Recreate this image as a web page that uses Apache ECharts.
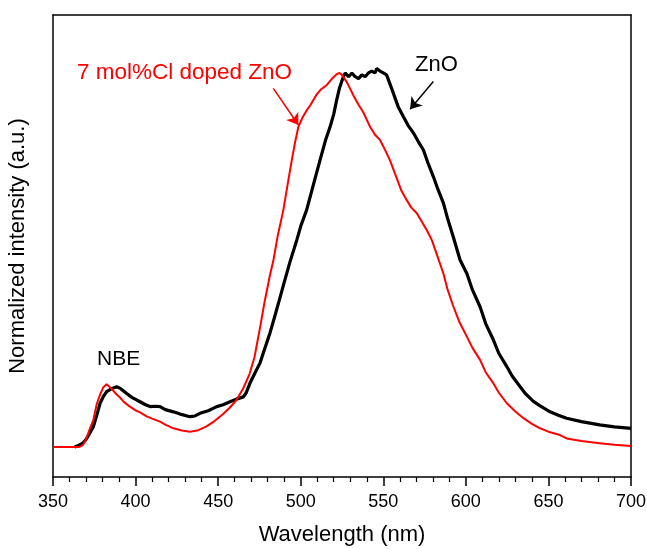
<!DOCTYPE html>
<html><head><meta charset="utf-8">
<script src="https://cdn.jsdelivr.net/npm/echarts@6/dist/echarts.min.js"></script>
<style>html,body{margin:0;padding:0;background:#fff}#c{width:647px;height:549px}</style>
</head><body><div id="c"></div>
<script>
const xTicks = [350, 400, 450, 500, 550, 600, 650, 700];

const redWl = [350,360,366,368,370,372,374.4,376.5,378.5,380.5,382.5,385,388,390.6,393,396.6,400,403,406.7,410,414.8,418,422.9,428,433,438,443,448,453,457,461,465,469,472,475.4,478,481.4,483.5,486.1,489.5,492,494.6,496.6,498.6,501,503.6,506,509.7,512,515.8,519,521.8,523.5,525,528,531.9,535,537.9,542,545,548,551,554,558,561,564.2,567,570.3,573,576.3,579.4,582.4,586.4,589,592.5,596,600.6,604,608.6,612,616.7,620,624.8,630,634.9,640,644.9,650,657,661,670,681,690,700];
const redVal = [0,0,0,0.005,0.02,0.045,0.072,0.115,0.14,0.16,0.168,0.158,0.143,0.132,0.12,0.108,0.098,0.092,0.082,0.076,0.068,0.06,0.05,0.044,0.041,0.045,0.055,0.07,0.088,0.105,0.125,0.155,0.195,0.24,0.32,0.385,0.46,0.5,0.565,0.634,0.7,0.767,0.815,0.856,0.88,0.9,0.915,0.943,0.955,0.968,0.985,0.997,1.0,0.995,0.975,0.94,0.915,0.895,0.856,0.835,0.821,0.795,0.767,0.72,0.685,0.66,0.64,0.625,0.605,0.58,0.553,0.515,0.464,0.42,0.375,0.335,0.295,0.265,0.233,0.2,0.17,0.145,0.117,0.095,0.077,0.062,0.05,0.041,0.032,0.023,0.016,0.01,0.006,0.003];

const blackWl = [363,365,368,370,372,374.4,376.5,378.5,380.5,382.5,385,388.6,391,394.6,398,402.7,406,408.8,412,414.8,418,422.9,427,433,436,439,444,449.2,453,457.2,461,465.3,467,469.3,472,475.4,478,481.4,484,487.5,490,493.5,497.6,500,503.6,507,511.7,515,517.8,520,521.8,523.5,525.8,527,529,531,533,535,537,539,541,543,545,546,548,550,552,553.1,556.1,559,562.2,565,568.2,571,574.3,577,580.3,583,586.4,589,592.5,596.5,600.6,604,608.6,612,616.7,620,624.8,628,632.9,636,640.9,645,651,656,661,670,681,690,700];
const blackVal = [0,0.003,0.01,0.02,0.035,0.054,0.085,0.117,0.135,0.148,0.155,0.161,0.156,0.143,0.132,0.121,0.113,0.108,0.109,0.108,0.1,0.094,0.088,0.081,0.083,0.09,0.097,0.108,0.113,0.121,0.128,0.134,0.145,0.171,0.195,0.225,0.26,0.305,0.345,0.4,0.44,0.495,0.553,0.59,0.634,0.69,0.767,0.82,0.856,0.89,0.928,0.96,0.99,1.0,0.99,1.0,0.99,0.985,0.995,0.99,1.0,1.005,1.0,1.012,1.005,1.0,0.995,0.99,0.946,0.91,0.883,0.86,0.84,0.818,0.794,0.76,0.723,0.69,0.652,0.61,0.56,0.5,0.464,0.42,0.375,0.33,0.286,0.25,0.215,0.19,0.161,0.143,0.122,0.11,0.094,0.085,0.077,0.068,0.059,0.054,0.05];

const labelDoped = '7 mol%Cl doped ZnO';
const labelZnO = 'ZnO';
const labelNBE = 'NBE';
const arrowDoped = [[483.4, 0.959], [498.6, 0.861]];
const arrowZnO = [[580.3, 0.977], [566.2, 0.903]];

const FONT = "'Liberation Sans', Arial, sans-serif";
const X_MIN = xTicks[0], X_MAX = xTicks[xTicks.length - 1];
const Y_MIN = -0.0802, Y_MAX = 1.155;
const frameLine = {show: true, onZero: false, lineStyle: {color: '#000', width: 1.5}};
const chart = echarts.init(document.getElementById('c'), null, {renderer: 'canvas'});
chart.setOption({
  animation: false,
  backgroundColor: '#fff',
  grid: {left: 53, right: 16, top: 15, bottom: 72, outerBoundsMode: 'none', containLabel: false},
  xAxis: [{
    type: 'value', position: 'bottom', min: X_MIN, max: X_MAX, interval: 50,
    name: 'Wavelength (nm)', nameLocation: 'middle', nameGap: 47,
    nameTextStyle: {fontFamily: FONT, fontSize: 22, color: '#000'},
    axisLine: frameLine,
    axisTick: {show: true, inside: false, length: 9, lineStyle: {color: '#000', width: 1.5}},
    minorTick: {show: true, splitNumber: 5, length: 5, lineStyle: {color: '#000', width: 1.2}},
    axisLabel: {fontFamily: FONT, fontSize: 18, color: '#000', margin: 16},
    splitLine: {show: false}
  }, {
    type: 'value', position: 'top', min: X_MIN, max: X_MAX,
    axisLine: frameLine, axisTick: {show: false}, axisLabel: {show: false}, splitLine: {show: false}
  }],
  yAxis: [{
    type: 'value', position: 'left', min: Y_MIN, max: Y_MAX,
    name: 'Normalized intensity (a.u.)', nameLocation: 'middle', nameGap: 24, nameRotate: 90,
    nameTextStyle: {fontFamily: FONT, fontSize: 22, color: '#000'},
    axisLine: frameLine,
    axisTick: {show: false}, axisLabel: {show: false}, splitLine: {show: false}
  }, {
    type: 'value', position: 'right', min: Y_MIN, max: Y_MAX,
    axisLine: frameLine, axisTick: {show: false}, axisLabel: {show: false}, splitLine: {show: false}
  }],
  series: [
    {
      type: 'line', name: 'ZnO', showSymbol: false, symbol: 'none', xAxisIndex: 0, yAxisIndex: 0,
      data: blackWl.map((w, i) => [w, blackVal[i]]),
      lineStyle: {color: '#000', width: 3.2}, z: 2,
      markLine: {
        silent: true, symbol: ['none', 'arrow'], symbolSize: 11,
        label: {show: false},
        lineStyle: {color: '#000', width: 1.5, type: 'solid'},
        data: [[{coord: arrowZnO[0]}, {coord: arrowZnO[1]}]]
      }
    },
    {
      type: 'line', name: 'doped', showSymbol: false, symbol: 'none', xAxisIndex: 0, yAxisIndex: 0,
      data: redWl.map((w, i) => [w, redVal[i]]),
      lineStyle: {color: '#ff0000', width: 2}, z: 3,
      markLine: {
        silent: true, symbol: ['none', 'arrow'], symbolSize: 11,
        label: {show: false},
        lineStyle: {color: '#ff0000', width: 1.5, type: 'solid'},
        data: [[{coord: arrowDoped[0]}, {coord: arrowDoped[1]}]]
      }
    }
  ],
  graphic: [
    {type: 'text', left: 77, top: 61, style: {text: labelDoped, fill: '#ff0000', font: '22.5px ' + FONT}},
    {type: 'text', left: 415, top: 54, style: {text: labelZnO, fill: '#000', font: '22px ' + FONT}},
    {type: 'text', left: 97, top: 349, style: {text: labelNBE, fill: '#000', font: '21px ' + FONT}}
  ]
});
</script></body></html>
